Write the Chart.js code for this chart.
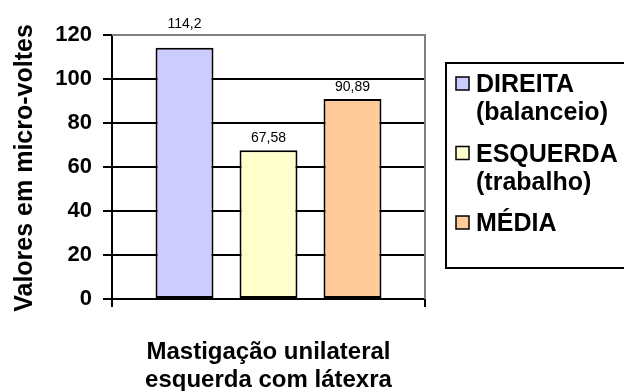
<!DOCTYPE html>
<html>
<head>
<meta charset="utf-8">
<script src="https://cdn.jsdelivr.net/npm/chart.js@4"></script>
<style>
  html, body { margin: 0; padding: 0; background: #fff; }
  #wrap { width: 624px; height: 391px; position: relative; }
</style>
</head>
<body>
<div id="wrap"><canvas id="c"></canvas></div>
<script>
// Category (two-line label under the axis)
const categories = [['Mastigação unilateral', 'esquerda com látexra']];
// Series names, one entry per legend line
const seriesNames = [['DIREITA', '(balanceio)'], ['ESQUERDA', '(trabalho)'], ['MÉDIA']];
// Values in micro-volts
const direitaValues = [114.2];
const esquerdaValues = [67.58];
const mediaValues = [90.89];
// Value axis ticks
const yTickValues = [0, 20, 40, 60, 80, 100, 120];
const yAxisTitle = 'Valores em micro-voltes';

const FONT = '"Liberation Sans", Arial, Helvetica, sans-serif';
const fills = ['#CCCCFF', '#FFFFCC', '#FFCC99'];
const labelGaps = [20, 8, 8];
const seriesValues = [direitaValues, esquerdaValues, mediaValues];
const yMax = yTickValues[yTickValues.length - 1];

const datasets = seriesValues.map((vals, i) => ({
  label: seriesNames[i].join(' '),
  legendLines: seriesNames[i],
  data: vals,
  backgroundColor: fills[i],
  borderColor: '#000',
  borderWidth: 2,
  borderSkipped: false,
  categoryPercentage: 0.805,
  barPercentage: 0.69,
  valueLabelGap: labelGaps[i]
}));

// Gray frame on the top and right of the plot area
const plotFrame = {
  id: 'plotFrame',
  beforeDatasetsDraw(chart) {
    const { ctx, chartArea: a } = chart;
    ctx.save();
    ctx.strokeStyle = '#808080';
    ctx.lineWidth = 2;
    ctx.beginPath();
    ctx.moveTo(a.left, a.top);
    ctx.lineTo(a.right, a.top);
    ctx.lineTo(a.right, a.bottom);
    ctx.stroke();
    ctx.restore();
  }
};

// Value printed above each bar, decimal comma
const valueLabels = {
  id: 'valueLabels',
  afterDatasetsDraw(chart) {
    const ctx = chart.ctx;
    ctx.save();
    ctx.font = '14px ' + FONT;
    ctx.fillStyle = '#000';
    ctx.textAlign = 'center';
    ctx.textBaseline = 'alphabetic';
    chart.data.datasets.forEach((ds, i) => {
      chart.getDatasetMeta(i).data.forEach((bar, j) => {
        const txt = String(ds.data[j]).replace('.', ',');
        ctx.fillText(txt, bar.x, bar.y - ds.valueLabelGap);
      });
    });
    ctx.restore();
  }
};

// Boxed legend with wrapped series names
const legendBox = {
  id: 'legendBox',
  afterDraw(chart) {
    const { ctx, chartArea: a } = chart;
    const bx = a.right + 21, by = 63, bw = 230, bh = 205;
    ctx.save();
    ctx.fillStyle = '#fff';
    ctx.fillRect(bx, by, bw, bh);
    ctx.strokeStyle = '#000';
    ctx.lineWidth = 2;
    ctx.strokeRect(bx, by, bw, bh);
    ctx.font = 'bold 25px ' + FONT;
    ctx.textAlign = 'left';
    ctx.textBaseline = 'alphabetic';
    chart.data.datasets.forEach((ds, i) => {
      const base = by + 29 + i * 69.5;
      ctx.fillStyle = ds.backgroundColor;
      ctx.fillRect(bx + 10, base - 15, 13, 13);
      ctx.lineWidth = 1.5;
      ctx.strokeStyle = '#000';
      ctx.strokeRect(bx + 10, base - 15, 13, 13);
      ctx.fillStyle = '#000';
      ds.legendLines.forEach((line, k) => {
        ctx.fillText(line, bx + 30, base + k * 28);
      });
    });
    ctx.restore();
  }
};

// Rotated value-axis title
const yTitle = {
  id: 'yTitle',
  afterDraw(chart) {
    const { ctx, chartArea: a } = chart;
    ctx.save();
    ctx.translate(32, (a.top + a.bottom) / 2 + 1);
    ctx.rotate(-Math.PI / 2);
    ctx.font = 'bold 25px ' + FONT;
    ctx.fillStyle = '#000';
    ctx.textAlign = 'center';
    ctx.textBaseline = 'alphabetic';
    ctx.fillText(yAxisTitle, 0, 0);
    ctx.restore();
  }
};

new Chart(document.getElementById('c'), {
  type: 'bar',
  data: { labels: categories, datasets },
  options: {
    responsive: true,
    maintainAspectRatio: false,
    animation: false,
    layout: { padding: { top: 35, right: 199, bottom: 0, left: 0 } },
    plugins: {
      legend: { display: false },
      tooltip: { enabled: false },
      title: { display: false }
    },
    scales: {
      x: {
        afterFit(s) { s.height = 92; },
        grid: { drawOnChartArea: false, drawTicks: true, tickLength: 8, color: '#000', lineWidth: 2 },
        border: { display: true, color: '#000', width: 2 },
        ticks: {
          color: '#000',
          font: { family: FONT, size: 24, weight: 'bold', lineHeight: 1.15 },
          padding: 32,
          maxRotation: 0,
          autoSkip: false
        }
      },
      y: {
        min: yTickValues[0],
        max: yMax,
        afterFit(s) { s.width = 112; },
        afterBuildTicks(s) { s.ticks = yTickValues.map(v => ({ value: v })); },
        grid: {
          color: c => (c.tick && c.tick.value === yMax ? '#808080' : '#000'),
          tickColor: '#000',
          lineWidth: 2,
          tickLength: 9,
          drawTicks: true
        },
        border: { color: '#000', width: 2 },
        ticks: {
          color: '#000',
          font: { family: FONT, size: 22, weight: 'bold' },
          padding: 11
        }
      }
    }
  },
  plugins: [plotFrame, valueLabels, legendBox, yTitle]
});
</script>
</body>
</html>
